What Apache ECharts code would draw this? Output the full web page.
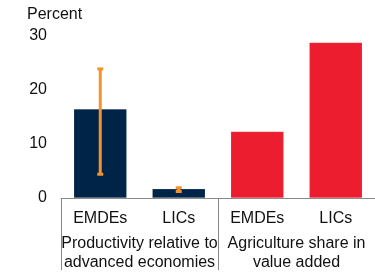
<!DOCTYPE html>
<html>
<head>
<meta charset="utf-8">
<script src="https://cdn.jsdelivr.net/npm/echarts@6/dist/echarts.min.js"></script>
<style>
  html, body { margin: 0; padding: 0; background: #fff; }
  #main { width: 375px; height: 276px; }
</style>
</head>
<body>
<div id="main"></div>
<script>
var categories = ['EMDEs', 'LICs', 'EMDEs', 'LICs'];
var groups = ['Productivity relative to\nadvanced economies', 'Agriculture share in\nvalue added'];
var values = [16.5, 1.7, 12.3, 28.8];
var errLow = [4.4, 1.2];
var errHigh = [23.9, 1.9];
var yTicks = [0, 10, 20, 30];

var navy = '#002448';
var red = '#EB1D2F';
var orange = '#F5922F';
var barColors = [navy, navy, red, red];

var errData = [];
for (var i = 0; i < errLow.length; i++) {
    errData.push([i, errLow[i], errHigh[i]]);
}

var myChart = echarts.init(document.getElementById('main'));
var font = 'Liberation Sans, Arial, sans-serif';

var option = {
    animation: false,
    textStyle: { fontFamily: font },
    title: {
        text: 'Percent',
        left: 27,
        top: 7,
        padding: 0,
        textStyle: { fontSize: 16, fontWeight: 'normal', color: '#111', fontFamily: font }
    },
    grid: { left: 61, top: 36, width: 318, height: 162 },
    xAxis: [{
        type: 'category',
        data: categories,
        axisLine: { lineStyle: { color: '#888', width: 1 } },
        axisTick: { show: false },
        axisLabel: { color: '#111', fontSize: 16, margin: 13, interval: 0, fontFamily: font }
    }, {
        type: 'category',
        data: groups,
        position: 'bottom',
        axisLine: { show: false },
        axisTick: { show: true, interval: 0, length: 72, lineStyle: { color: '#888', width: 1 } },
        axisLabel: { color: '#111', fontSize: 16, margin: 36, lineHeight: 19, interval: 0, hideOverlap: false, fontFamily: font }
    }],
    yAxis: {
        type: 'value',
        min: 0,
        max: 30,
        interval: 10,
        axisLine: { show: false },
        axisTick: { show: false },
        splitLine: { show: false },
        axisLabel: { color: '#111', fontSize: 16, margin: 14, fontFamily: font }
    },
    series: [{
        type: 'bar',
        data: values.map(function (v, i) {
            return { value: v, itemStyle: { color: barColors[i] } };
        }),
        barWidth: 53,
        itemStyle: { borderColor: 'rgba(255,255,255,0.3)', borderWidth: 0.5 }
    }, {
        type: 'custom',
        data: errData,
        z: 10,
        renderItem: function (params, api) {
            var x = api.value(0);
            var lo = api.coord([x, api.value(1)]);
            var hi = api.coord([x, api.value(2)]);
            var w = 3;
            var style = { stroke: orange, lineWidth: 3 };
            return {
                type: 'group',
                children: [
                    { type: 'line', shape: { x1: lo[0], y1: lo[1], x2: hi[0], y2: hi[1] }, style: style },
                    { type: 'line', shape: { x1: lo[0] - w, y1: lo[1], x2: lo[0] + w, y2: lo[1] }, style: style },
                    { type: 'line', shape: { x1: hi[0] - w, y1: hi[1], x2: hi[0] + w, y2: hi[1] }, style: style }
                ]
            };
        }
    }]
};

myChart.setOption(option);
</script>
</body>
</html>
